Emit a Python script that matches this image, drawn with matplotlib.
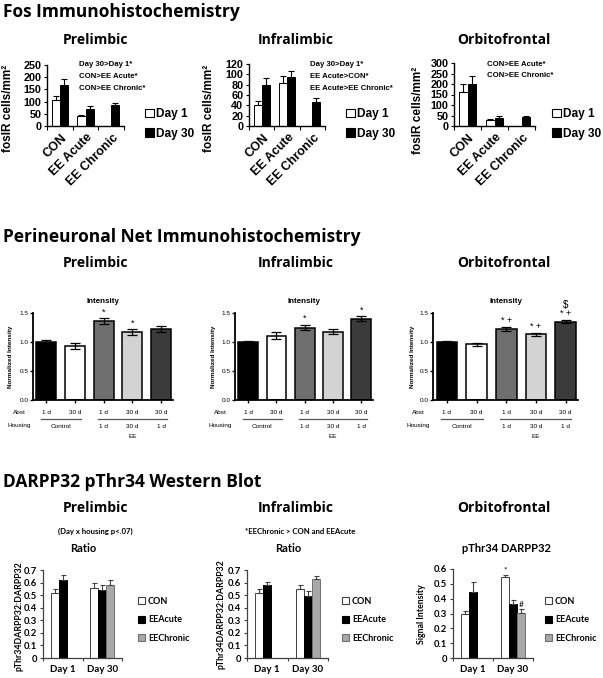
#!/usr/bin/env python3

'''
Fos / PNN / DARPP32 summary figure
three rows, three brain regions per row
'''

import numpy as np
import matplotlib
matplotlib.use('Agg')
import matplotlib.pyplot as plt
from matplotlib.patches import Patch
from matplotlib.transforms import ScaledTranslation

nan = np.nan

#==================================================================
# Fos immunohistochemistry (cells/mm2)
fos_groups = ['CON', 'EE Acute', 'EE Chronic']
fos_days = ['Day 1', 'Day 30']

pl_fos_d1 = [105, 43, nan]
pl_fos_d1_err = [20, 4, nan]
pl_fos_d30 = [167, 70, 85]
pl_fos_d30_err = [27, 14, 10]

il_fos_d1 = [40, 84, nan]
il_fos_d1_err = [9, 13, nan]
il_fos_d30 = [80, 95, 47]
il_fos_d30_err = [12, 11, 8]

of_fos_d1 = [160, 29, nan]
of_fos_d1_err = [38, 6, nan]
of_fos_d30 = [198, 40, 45]
of_fos_d30_err = [38, 6, 5]

pl_fos_yticks = [0, 50, 100, 150, 200, 250]
il_fos_yticks = [0, 20, 40, 60, 80, 100, 120]
of_fos_yticks = [0, 50, 100, 150, 200, 250, 300]

pl_fos_notes = ['Day 30>Day 1*', 'CON>EE Acute*', 'CON>EE Chronic*']
il_fos_notes = ['Day 30>Day 1*', 'EE Acute>CON*', 'EE Acute>EE Chronic*']
of_fos_notes = ['CON>EE Acute*', 'CON>EE Chronic*']

#==================================================================
# Perineuronal net intensity (normalized)
pnn_abst = ['1 d', '30 d', '1 d', '30 d', '30 d']
pnn_housing_ee = ['1 d', '30 d', '1 d']
pnn_yticks = [0.0, 0.5, 1.0, 1.5]

pl_pnn = [1.00, 0.93, 1.36, 1.17, 1.22]
pl_pnn_err = [0.03, 0.05, 0.05, 0.05, 0.05]
pl_pnn_marks = ['', '', '*', '*', '']

il_pnn = [1.00, 1.11, 1.25, 1.18, 1.40]
il_pnn_err = [0.025, 0.06, 0.05, 0.05, 0.04]
il_pnn_marks = ['', '', '*', '', '*']

of_pnn = [1.00, 0.96, 1.23, 1.13, 1.35]
of_pnn_err = [0.02, 0.025, 0.035, 0.03, 0.03]
of_pnn_marks = ['', '', '* +', '* +', '* +']
of_pnn_marks2 = ['', '', '', '', '$']

#==================================================================
# DARPP32 pThr34 western blot
dp_days = ['Day 1', 'Day 30']
dp_groups = ['CON', 'EEAcute', 'EEChronic']

pl_dp_con = [0.515, 0.56]
pl_dp_con_err = [0.03, 0.033]
pl_dp_acute = [0.62, 0.541]
pl_dp_acute_err = [0.04, 0.037]
pl_dp_chronic = [nan, 0.58]
pl_dp_chronic_err = [nan, 0.04]

il_dp_con = [0.515, 0.549]
il_dp_con_err = [0.03, 0.03]
il_dp_acute = [0.581, 0.497]
il_dp_acute_err = [0.025, 0.037]
il_dp_chronic = [nan, 0.629]
il_dp_chronic_err = [nan, 0.025]

of_dp_con = [0.30, 0.543]
of_dp_con_err = [0.018, 0.018]
of_dp_acute = [0.443, 0.367]
of_dp_acute_err = [0.068, 0.027]
of_dp_chronic = [nan, 0.303]
of_dp_chronic_err = [nan, 0.025]
of_dp_marks = [['', '*'], ['', ''], ['', '#']]

dp_yticks_07 = [0, 0.1, 0.2, 0.3, 0.4, 0.5, 0.6, 0.7]
dp_yticks_06 = [0, 0.1, 0.2, 0.3, 0.4, 0.5, 0.6]

#==================================================================
W, H = 603, 678
TITLE = 'Open Sans'
ARIAL = 'Liberation Sans'
CALI = 'Lato'

fig = plt.figure(figsize=(W / 100, H / 100), dpi=100)


def rect(l, t, r, b):
    return [l / W, 1 - b / H, (r - l) / W, (b - t) / H]


def ftext(x, y, s, **kw):
    return fig.text(x / W, 1 - y / H, s, **kw)


def tick_lbl(v):
    return '0' if v == 0 else '%g' % v


#==================================================================
def fos_panel(rc, d1, d1e, d30, d30e, yticks, notes, note_xy, leg_xy, ylab):
    l, t, r, b = rc
    ax = fig.add_axes(rect(l, t, r, b))
    x = np.arange(len(fos_groups))
    w = 0.32
    d1e = np.array(d1e, float)
    d30e = np.array(d30e, float)
    ekw = dict(ecolor='black', elinewidth=0.8, capsize=2.2, capthick=0.8)
    ax.bar(x - w / 2, d1, w, yerr=[np.zeros_like(d1e), d1e], color='white',
           edgecolor='black', linewidth=0.7, error_kw=ekw)
    ax.bar(x + w / 2, d30, w, yerr=[np.zeros_like(d30e), d30e], color='black',
           edgecolor='black', linewidth=0.7, error_kw=ekw)
    ax.set_xlim(-0.5, 2.5)
    ax.set_ylim(0, yticks[-1])
    for s in ['top', 'right']:
        ax.spines[s].set_visible(False)
    for s in ['left', 'bottom']:
        ax.spines[s].set_linewidth(1.0)
    ax.set_yticks(yticks)
    ax.set_yticklabels([str(v) for v in yticks], fontsize=7.8,
                       fontweight='bold', family=ARIAL)
    ax.tick_params(axis='y', length=2.5, width=0.8, pad=1.5)
    ax.set_xticks(x)
    ax.set_xticklabels(fos_groups, rotation=45, ha='right', va='center',
                       rotation_mode='anchor', fontsize=9.0,
                       fontweight='bold', family=ARIAL)
    ax.tick_params(axis='x', which='major', length=0, pad=7)
    shift = ScaledTranslation(5 / 100, 0, fig.dpi_scale_trans)
    for lab in ax.get_xticklabels():
        lab.set_transform(lab.get_transform() + shift)
    ax.set_xticks([-0.5, 0.5, 1.5, 2.5], minor=True)
    ax.tick_params(axis='x', which='minor', length=3, width=0.8)
    ax.set_ylabel('fosIR cells/mm²', fontsize=8.5, va='center',
                  fontweight='bold', family=ARIAL)
    ax.yaxis.set_label_coords((ylab[0] - l) / (r - l), (b - ylab[1]) / (b - t))
    for i, s in enumerate(notes):
        ftext(note_xy[0], note_xy[1] + i * 11.5, s, fontsize=5.6,
              fontweight='bold', family=ARIAL, va='center')
    hnd = [Patch(facecolor='white', edgecolor='black', linewidth=0.8),
           Patch(facecolor='black', edgecolor='black', linewidth=0.8)]
    ax.legend(hnd, fos_days, loc='center left',
              bbox_to_anchor=(leg_xy[0] / W, 1 - leg_xy[1] / H),
              bbox_transform=fig.transFigure, frameon=False,
              prop=dict(family=ARIAL, weight='bold', size=8.6),
              handlelength=0.75, handleheight=0.75, handletextpad=0.2,
              borderpad=0, borderaxespad=0, labelspacing=0.65)
    return ax


#==================================================================
def pnn_panel(rc, vals, errs, marks, marks2, ylab_x, side_x):
    l, t, r, b = rc
    ax = fig.add_axes(rect(l, t, r, b))
    x = np.arange(len(vals))
    cols = ['black', 'white', '#6e6e6e', '#d3d3d3', '#3b3b3b']
    ax.bar(x, vals, 0.7, yerr=errs, color=cols, edgecolor='black',
           linewidth=1.1,
           error_kw=dict(ecolor='black', elinewidth=0.9, capsize=3.3,
                         capthick=0.9))
    for i in x:
        top = vals[i] + errs[i]
        if marks[i]:
            ax.text(i, top + 0.03, marks[i], ha='center', va='bottom',
                    fontsize=6.5, family=ARIAL)
        if marks2[i]:
            ax.text(i, top + 0.17, marks2[i], ha='center', va='bottom',
                    fontsize=7, family=ARIAL)
    ax.set_xlim(-0.47, 4.42)
    ax.set_ylim(0, 1.5)
    for s in ['top', 'right']:
        ax.spines[s].set_visible(False)
    for s in ['left', 'bottom']:
        ax.spines[s].set_linewidth(1.3)
    ax.set_yticks(pnn_yticks)
    ax.set_yticklabels(['%.1f' % v for v in pnn_yticks], fontsize=4.6,
                       family=ARIAL)
    ax.tick_params(axis='y', length=2.5, width=1.0, pad=0.5)
    ax.set_xticks(x)
    ax.set_xticklabels([])
    ax.tick_params(axis='x', length=2.5, width=1.0)
    ax.set_title('Intensity', fontsize=5.8, fontweight='bold', family=ARIAL,
                 pad=7)
    ax.set_ylabel('Normalized Intensity', fontsize=4.6, fontweight='bold',
                  va='center', family=ARIAL)
    ax.yaxis.set_label_coords((ylab_x - l) / (r - l), 0.5)

    tr = ax.get_xaxis_transform()
    ay = lambda ypx: (b - ypx) / (b - t)
    kw = dict(fontsize=4.6, family=ARIAL, ha='center', va='center')
    for i, s in enumerate(pnn_abst):
        ax.text(i, ay(413), s, transform=tr, **kw)
    for i, s in enumerate(pnn_housing_ee):
        ax.text(i + 2, ay(426), s, transform=tr, **kw)
    ax.text(0.5, ay(426), 'Control', transform=tr, **kw)
    ax.text(3, ay(437), 'EE', transform=tr, **kw)
    ax.plot([-0.2, 1.2], [ay(419)] * 2, transform=tr, color='#555555',
            lw=0.9, clip_on=False)
    ax.plot([1.8, 4.2], [ay(419)] * 2, transform=tr, color='#555555',
            lw=0.9, clip_on=False)
    ftext(side_x, 413, 'Abst', **kw)
    ftext(side_x, 426, 'Housing', **kw)
    return ax


#==================================================================
def dp_panel(rc, con, con_e, acu, acu_e, chr_, chr_e, yticks, ylab,
             ylab_xy, leg_x, marks=None):
    l, t, r, b = rc
    ax = fig.add_axes(rect(l, t, r, b))
    x = np.arange(len(dp_days))
    w = 0.2
    series = [(con, con_e, 'white', '#404040'),
              (acu, acu_e, 'black', 'black'),
              (chr_, chr_e, '#a8a8a8', '#707070')]
    for k, (v, e, fc, ec) in enumerate(series):
        e = np.array(e, float)
        ax.bar(x + (k - 1) * w, v, w, yerr=[np.zeros_like(e), e], color=fc,
               edgecolor=ec, linewidth=0.7,
               error_kw=dict(ecolor='#404040', elinewidth=0.8, capsize=1.8,
                             capthick=0.8))
        if marks is not None:
            for j in x:
                if marks[k][j]:
                    ax.text(j + (k - 1) * w, v[j] + e[j] + 0.01, marks[k][j],
                            ha='center', va='bottom', fontsize=6,
                            family=CALI)
    ax.set_xlim(-0.5, 1.5)
    ax.set_ylim(0, yticks[-1])
    for s in ['top', 'right']:
        ax.spines[s].set_visible(False)
    for s in ['left', 'bottom']:
        ax.spines[s].set_linewidth(0.9)
        ax.spines[s].set_color('#404040')
    ax.set_yticks(yticks)
    ax.set_yticklabels([tick_lbl(v) for v in yticks], fontsize=6.8,
                       fontweight='bold', family=CALI)
    ax.tick_params(axis='y', length=2.5, width=0.8, pad=2, color='#404040')
    ax.set_xticks(x)
    ax.set_xticklabels(dp_days, fontsize=7, fontweight='bold', family=CALI)
    ax.tick_params(axis='x', which='major', length=0, pad=5)
    ax.set_xticks([-0.5, 0.5, 1.5], minor=True)
    ax.tick_params(axis='x', which='minor', length=2.5, width=0.8,
                   color='#404040')
    ax.set_ylabel(ylab, fontsize=6.3, fontweight='bold', va='center',
                  family=CALI)
    ax.yaxis.set_label_coords((ylab_xy[0] - l) / (r - l),
                              (b - ylab_xy[1]) / (b - t))
    hnd = [Patch(facecolor=fc, edgecolor=ec, linewidth=0.8)
           for _, _, fc, ec in series]
    ax.legend(hnd, dp_groups, loc='center left',
              bbox_to_anchor=(leg_x / W, 1 - 620 / H),
              bbox_transform=fig.transFigure, frameon=False,
              prop=dict(family=CALI, weight='bold', size=6.5),
              handlelength=0.8, handleheight=0.8, handletextpad=0.3,
              borderpad=0, borderaxespad=0, labelspacing=1.05)
    return ax


#==================================================================
def real_main():
    tkw = dict(fontsize=12.5, fontweight='bold', family=TITLE, va='center')
    ftext(3, 12, 'Fos Immunohistochemistry', **tkw)
    ftext(3, 237, 'Perineuronal Net Immunohistochemistry', **tkw)
    ftext(3, 482, 'DARPP32 pThr34 Western Blot', **tkw)

    skw = dict(fontsize=10, fontweight='bold', family=TITLE, va='center',
               ha='center')
    for y in [40, 263, 508]:
        ftext(95, y, 'Prelimbic', **skw)
        ftext(296, y, 'Infralimbic', **skw)
        ftext(504, y, 'Orbitofrontal', **skw)

    # row 1
    fos_panel((47, 65, 124, 126), pl_fos_d1, pl_fos_d1_err, pl_fos_d30,
              pl_fos_d30_err, pl_fos_yticks, pl_fos_notes, (79, 65),
              (145, 124), (8, 108))
    fos_panel((249, 64, 325, 126), il_fos_d1, il_fos_d1_err, il_fos_d30,
              il_fos_d30_err, il_fos_yticks, il_fos_notes, (310, 65),
              (346, 124), (209, 108))
    fos_panel((454, 63, 535, 126), of_fos_d1, of_fos_d1_err, of_fos_d30,
              of_fos_d30_err, of_fos_yticks, of_fos_notes, (487, 64),
              (552, 124), (418, 110))

    # row 2
    pnn_panel((33, 313, 173, 400), pl_pnn, pl_pnn_err, pl_pnn_marks,
              ['', '', '', '', ''], 11, 19)
    pnn_panel((235, 313, 373, 400), il_pnn, il_pnn_err, il_pnn_marks,
              ['', '', '', '', ''], 213, 220)
    pnn_panel((433, 313, 578, 400), of_pnn, of_pnn_err, of_pnn_marks,
              of_pnn_marks2, 413, 418)

    # row 3
    ftext(95, 531, '(Day x housing p<.07)', fontsize=5.6, fontweight='bold',
          family=CALI, ha='center', va='center')
    ftext(300, 531, '*EEChronic > CON and EEAcute', fontsize=5.6,
          fontweight='bold', family=CALI, ha='center', va='center')
    ftext(83, 548, 'Ratio', fontsize=8, fontweight='bold', family=CALI,
          ha='center', va='center')
    ftext(288, 549, 'Ratio', fontsize=8, fontweight='bold', family=CALI,
          ha='center', va='center')
    ftext(507, 549, 'pThr34 DARPP32', fontsize=8, fontweight='bold',
          family=CALI, ha='center', va='center')

    dp_panel((43, 570, 122, 658), pl_dp_con, pl_dp_con_err, pl_dp_acute,
             pl_dp_acute_err, pl_dp_chronic, pl_dp_chronic_err, dp_yticks_07,
             'pThr34DARPP32:DARPP32', (19, 616), 138)
    dp_panel((247, 570, 328, 658), il_dp_con, il_dp_con_err, il_dp_acute,
             il_dp_acute_err, il_dp_chronic, il_dp_chronic_err, dp_yticks_07,
             'pThr34DARPP32:DARPP32', (221, 614), 342)
    dp_panel((453, 569, 533, 658), of_dp_con, of_dp_con_err, of_dp_acute,
             of_dp_acute_err, of_dp_chronic, of_dp_chronic_err, dp_yticks_06,
             'Signal Intensity', (421, 614), 545, marks=of_dp_marks)

    fig.savefig('out.png', dpi=100)


#==================================================================
if __name__ == "__main__":
    real_main()
